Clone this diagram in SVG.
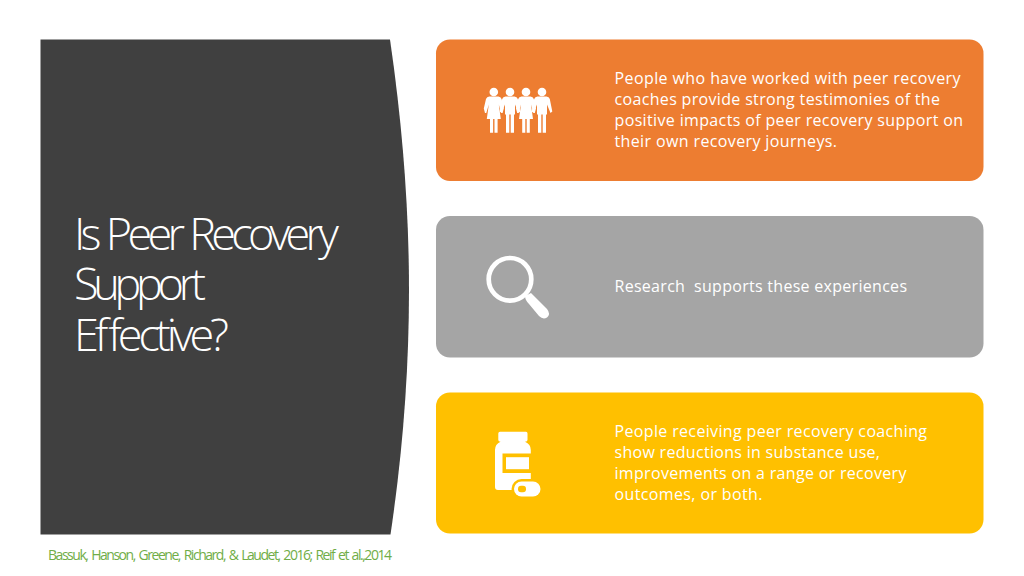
<svg xmlns="http://www.w3.org/2000/svg" width="1024" height="576" viewBox="0 0 1024 576">
<style>
.card{stroke:none}
.body{font-family:"Open Sans","Noto Sans","Liberation Sans",sans-serif;font-size:16px;fill:#fff;white-space:pre}
.title{font-family:"Open Sans","Noto Sans","Liberation Sans",sans-serif;font-weight:300;font-size:45px;fill:#fff;word-spacing:2px}
.cite{font-family:"Open Sans","Liberation Sans",sans-serif;font-size:14px;fill:#70AD47;word-spacing:1.500px}
.ico{fill:#fff}
</style>
<defs>
<path id="woman" d="M-4.500 96.500H4.500Q7 96.500 7.800 99L10 108.500 8.800 113 7.500 113 5 104.500 7 119H3.800V132.700H.7V119H-.7V132.700H-3.800V119H-7L-5 104.500-7.500 113-8.800 113-10 108.500-7.800 99Q-7 96.500-4.500 96.500Z"/>
<path id="man" d="M-4.500 96.500H4.500Q7 96.500 7.800 99L10.300 111.500 8.500 113 5 104.500V114.500H4V132.700H.7V114.500H-.7V132.700H-4V114.500H-5V104.500L-8.500 113-10.300 111.500-7.800 99Q-7 96.500-4.500 96.500Z"/>
</defs>
<rect width="1024" height="576" fill="#fff"/>
<g id="panel">
<path d="M40.500 39.500H390Q409 170 409 290Q409 410 390.500 534.500H40.500Z" fill="#404040"/>
<text class="title" x="74" y="250" textLength="265" lengthAdjust="spacing">Is Peer Recovery</text>
<text class="title" x="74" y="300" textLength="132" lengthAdjust="spacing">Support</text>
<text class="title" x="74" y="351" textLength="155" lengthAdjust="spacing">Effective?</text>
</g>
<g id="citation"><text class="cite" x="48" y="560" textLength="344" lengthAdjust="spacing">Bassuk, Hanson, Greene, Richard, &amp; Laudet, 2016; Reif et al.,2014</text></g>
<g id="card1">
<rect class="card" x="436" y="39.500" width="547.500" height="141.500" rx="14" fill="#ED7D31"/>
<g class="ico">
<circle cx="493.800" cy="92" r="4.300"/><circle cx="510" cy="92" r="4.300"/><circle cx="526" cy="92" r="4.300"/><circle cx="542" cy="92" r="4.300"/>
<use href="#woman" x="493.800"/><use href="#man" x="510"/><use href="#woman" x="526"/><use href="#man" x="542"/>
</g>
<text class="body" x="614.500" y="84" textLength="346" lengthAdjust="spacing">People who have worked with peer recovery</text>
<text class="body" x="614.500" y="105" textLength="325.500" lengthAdjust="spacing">coaches provide strong testimonies of the</text>
<text class="body" x="614.500" y="126" textLength="348.500" lengthAdjust="spacing">positive impacts of peer recovery support on</text>
<text class="body" x="614.500" y="147" textLength="222.500" lengthAdjust="spacing">their own recovery journeys.</text>
</g>
<g id="card2">
<rect class="card" x="436" y="216" width="547.500" height="141.500" rx="14" fill="#A5A5A5"/>
<circle cx="510" cy="279.300" r="21.300" fill="none" stroke="#fff" stroke-width="4.700"/>
<path d="M525 296L531 293 547 309Q551 314 547 317.500Q543 320 539 316L529 304Q525 300 525 296Z" class="ico"/>
<text class="body" x="614.500" y="292" textLength="292.500" lengthAdjust="spacing">Research  supports these experiences</text>
</g>
<g id="card3">
<rect class="card" x="436" y="392.500" width="547.500" height="141" rx="14" fill="#FFC000"/>
<path class="ico" d="M500 431.700H526Q527.500 431.700 527.500 433.500V440Q527.500 441.700 525 441.700Q530.800 444 530.800 450V490H498Q495 490 495 487V450Q495 444 500.500 441.700Q498.300 441.700 498.300 440V433.500Q498.300 431.700 500 431.700Z"/>
<rect x="502.500" y="453.500" width="29" height="19.500" fill="#FFC000"/>
<rect class="ico" x="506" y="457.200" width="23" height="12"/>
<rect x="511.500" y="479" width="31" height="20" rx="10" fill="#FFC000"/>
<rect class="ico" x="514" y="481.500" width="26.500" height="15" rx="7.500"/>
<rect x="518" y="485.700" width="8" height="6.500" rx="3" fill="#FFC000"/>
<text class="body" x="614.500" y="437" textLength="312.500" lengthAdjust="spacing">People receiving peer recovery coaching</text>
<text class="body" x="614.500" y="458" textLength="265.500" lengthAdjust="spacing">show reductions in substance use,</text>
<text class="body" x="614.500" y="479" textLength="292" lengthAdjust="spacing">improvements on a range or recovery</text>
<text class="body" x="614.500" y="500" textLength="148" lengthAdjust="spacing">outcomes, or both.</text>
</g>
</svg>
